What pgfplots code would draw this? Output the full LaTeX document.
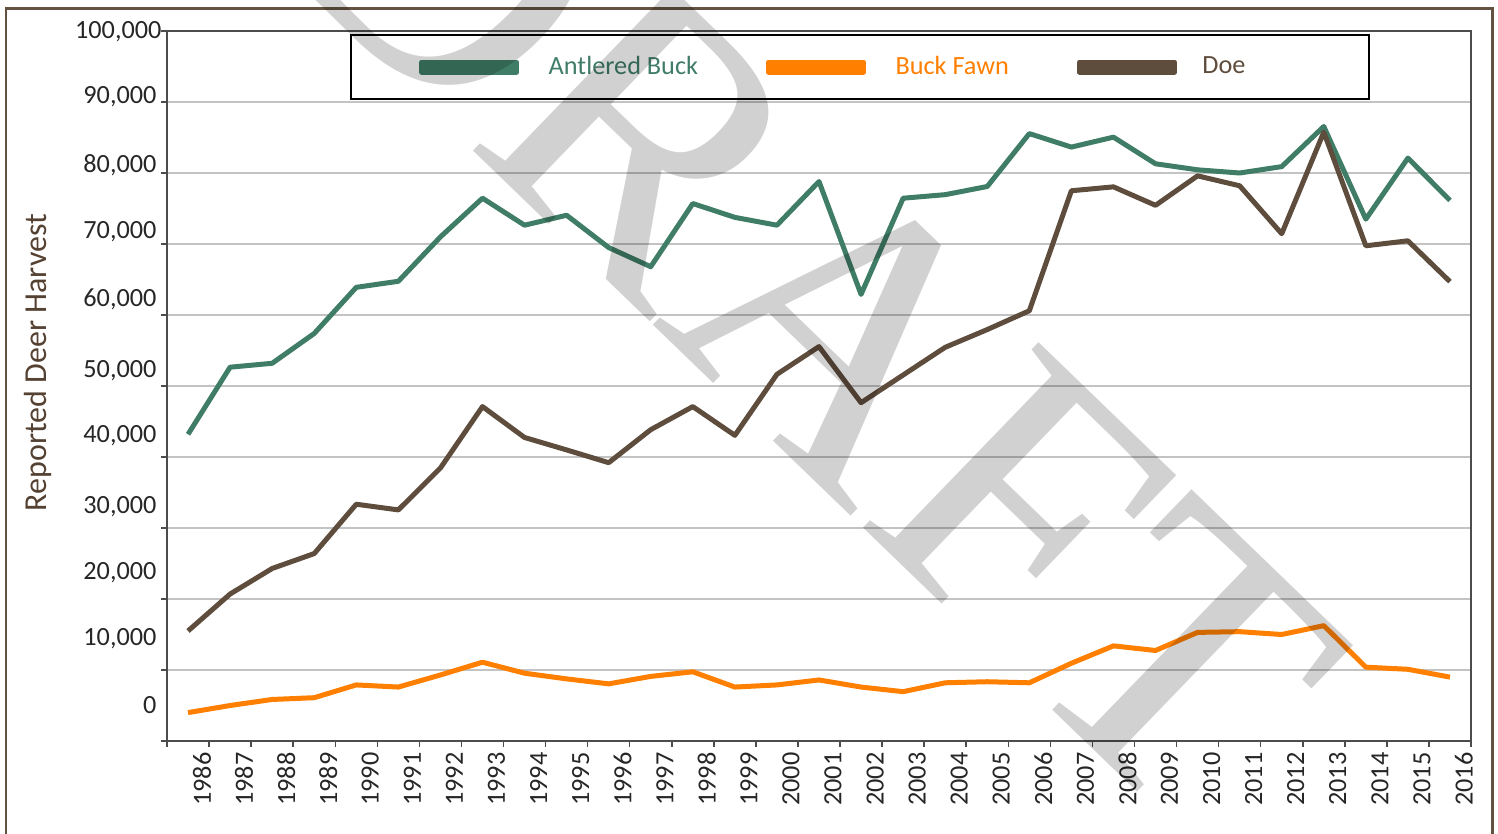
\documentclass[border=0pt]{standalone}
\usepackage{fontspec}
\setmainfont{Carlito}
\newfontfamily\wmfont{Liberation Serif}
\usepackage{pgfplots}
\usepackage{pgfplotstable}
\pgfplotsset{compat=1.18}
\definecolor{buckgreen}{RGB}{64,125,103}
\definecolor{fawnorange}{RGB}{255,128,0}
\definecolor{doebrown}{RGB}{94,76,60}
\definecolor{framebrown}{RGB}{100,82,64}
\definecolor{gridgray}{RGB}{195,195,195}
\definecolor{labeltext}{RGB}{38,38,38}
\definecolor{ylabcol}{RGB}{85,65,50}

\pgfplotstableread{
x buck fawn doe
0 43200 4000 15500
1 52650 5000 20700
2 53200 5850 24300
3 57400 6100 26400
4 63900 7900 33350
5 64750 7600 32550
6 71000 9300 38450
7 76450 11100 47100
8 72650 9550 42750
9 74050 8750 41000
10 69500 8050 39200
11 66800 9100 43850
12 75700 9750 47100
13 73750 7600 43050
14 72650 7900 51650
15 78800 8600 55550
16 62900 7600 47650
17 76450 6950 51550
18 76950 8200 55450
19 78100 8350 57950
20 85550 8200 60600
21 83650 10950 77500
22 85050 13400 78050
23 81300 12750 75450
24 80450 15300 79600
25 80000 15400 78200
26 80900 15000 71450
27 86550 16250 85750
28 73500 10400 69750
29 82100 10100 70450
30 76150 9000 64700
}\deertable

\begin{document}
\begin{tikzpicture}[x=1pt,y=1pt]
\useasboundingbox (0,0) rectangle (599.2,333.2);
\draw[framebrown, line width=1.1pt] (2.4,-20) -- (2.4,329.8) -- (597.0,329.8) -- (597.0,-20);
\begin{axis}[
  at={(66.8pt,36.8pt)}, anchor=south west,
  scale only axis, width=521.6pt, height=284pt,
  xmin=-0.5, xmax=30.5, ymin=0, ymax=100000,
  axis line style={draw=black!70, line width=0.8pt},
  tick align=outside,
  tick pos=left,
  major tick length=2.2pt,
  tick style={draw=black!70, line width=0.6pt},
  xtick={-0.5,0.5,...,30.5},
  xticklabels={},
  ytick={0,10000,...,100000},
  yticklabels={},
  scaled y ticks=false,
  ymajorgrids, grid style={gridgray, line width=0.5pt},
  extra x ticks={0,1,2,3,4,5,6,7,8,9,10,11,12,13,14,15,16,17,18,19,20,21,22,23,24,25,26,27,28,29,30},
  extra x tick labels={1986,1987,1988,1989,1990,1991,1992,1993,1994,1995,1996,1997,1998,1999,2000,2001,2002,2003,2004,2005,2006,2007,2008,2009,2010,2011,2012,2013,2014,2015,2016},
  extra x tick style={major tick length=0pt, grid=none,
    xticklabel style={xshift=5.6pt, yshift=-4.4pt, rotate=90, anchor=east, inner sep=0pt,
      font=\fontsize{10.5}{12}\selectfont, text=labeltext}},
  extra y ticks={5070,14366,23662,32958,42958,52113,62254,71690,81127,90704,99859},
  extra y tick labels={0,{10,000},{20,000},{30,000},{40,000},{50,000},{60,000},{70,000},{80,000},{90,000},{100,000\kern-2pt}},
  extra y tick style={major tick length=0pt, grid=none,
    yticklabel style={anchor=east, inner sep=0pt, xshift=-4pt,
      font=\fontsize{10.5}{12}\selectfont, text=labeltext}},
  ylabel={Reported Deer Harvest},
  ylabel style={at={(axis description cs:-0.0989,0.533)}, anchor=center,
    font=\fontsize{12.8}{15}\selectfont, text=ylabcol},
  legend columns=3,
  legend cell align=left,
  legend style={at={(axis description cs:0.5314,0.9493)}, anchor=center,
    draw=black, line width=0.8pt, fill=white,
    inner xsep=27.2pt, inner ysep=8.5pt,
    nodes={inner sep=0pt, font=\fontsize{10.5}{12}\selectfont},
    /tikz/every odd column/.append style={column sep=11.8pt},
    /tikz/every even column/.append style={column sep=27.2pt}},
  legend image code/.code={
    \path (0pt,-2pt) rectangle (38pt,2pt);
    \draw[#1, line width=4pt, line cap=round] (2pt,0pt) -- (36pt,0pt);},
  every axis plot/.append style={line width=2pt, line join=round},
]
\addplot[buckgreen] table[x=x, y=buck] {\deertable};
\addlegendentry{\textcolor{buckgreen}{Antlered Buck}}
\addplot[fawnorange] table[x=x, y=fawn] {\deertable};
\addlegendentry{\textcolor{fawnorange}{Buck Fawn}}
\addplot[doebrown] table[x=x, y=doe] {\deertable};
\addlegendentry{\makebox[37.7pt][l]{\kern-1.6pt\textcolor{doebrown}{Doe}}}
\end{axis}
\node[rotate=-44, text=black, opacity=0.18, font=\wmfont\fontsize{156}{156}\selectfont, inner sep=0pt] at (324,214) {DRAFT};
\end{tikzpicture}
\end{document}
